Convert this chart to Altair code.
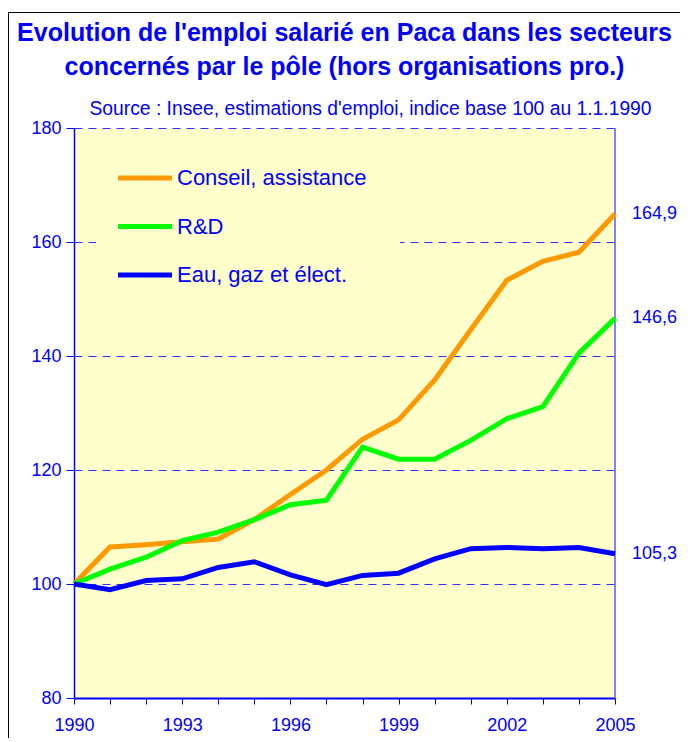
import altair as alt
import pandas as pd

years = list(range(1990, 2006))
series_names = ["Conseil, assistance", "R&D", "Eau, gaz et élect."]
conseil = [100, 106.5, 106.9, 107.4, 107.9, 111.3, 115.7, 120.0, 125.4, 128.8, 135.8, 144.6, 153.3, 156.6, 158.2, 164.9]
rd = [100, 102.6, 104.7, 107.6, 109.1, 111.3, 113.9, 114.7, 124.0, 121.9, 121.9, 125.2, 129.0, 131.1, 140.5, 146.6]
eau = [100, 99.0, 100.6, 100.9, 102.9, 103.9, 101.6, 99.9, 101.5, 101.9, 104.4, 106.2, 106.4, 106.2, 106.4, 105.3]
end_labels = ["164,9", "146,6", "105,3"]
colors = ["#FF9900", "#00FF00", "#0000FF"]
y_ticks = [80, 100, 120, 140, 160, 180]

title_lines = ["Evolution de l'emploi salarié en Paca dans les secteurs",
               "concernés par le pôle (hors organisations pro.)"]
subtitle = "Source : Insee, estimations d'emploi, indice base 100 au 1.1.1990"

BLUE = "#0000FF"
FONT = "Liberation Sans"
BG = "#FFFFCC"

rows = []
for name, vals in zip(series_names, [conseil, rd, eau]):
    for yr, v in zip(years, vals):
        rows.append({"series": name, "year": yr, "value": v})
df = pd.DataFrame(rows)

end_df = pd.DataFrame({
    "series": series_names,
    "year": [years[-1]] * 3,
    "value": [conseil[-1], rd[-1], eau[-1]],
    "label": end_labels,
})

x_scale = alt.Scale(domain=[1990, 2005], nice=False, zero=False)
y_scale = alt.Scale(domain=[80, 180], nice=False, zero=False)

x_axis = alt.Axis(values=years, format="d", grid=False, title=None,
                  labelExpr="(datum.value - 1990) % 3 == 0 ? datum.label : ''",
                  tickSize=6, labelPadding=12, labelFontSize=18,
                  domainWidth=2, labelFlush=False, labelOverlap=False)
y_axis = alt.Axis(values=y_ticks, grid=True, gridDash=[8, 6], gridColor="#2F2FFF",
                  tickSize=8, labelPadding=5, labelFontSize=18, domainWidth=1.5,
                  labelOverlap=False,
                  title=subtitle, titleAngle=0, titleX=296, titleY=-14,
                  titleAlign="center", titleBaseline="alphabetic",
                  titleFontSize=19.3, titleFontWeight="normal", titleColor=BLUE,
                  titleFont=FONT)

lines = alt.Chart(df).mark_line(strokeWidth=5).encode(
    x=alt.X("year:Q", scale=x_scale, axis=x_axis),
    y=alt.Y("value:Q", scale=y_scale, axis=y_axis),
    color=alt.Color("series:N", sort=series_names,
                    scale=alt.Scale(domain=series_names, range=colors),
                    legend=alt.Legend(title=None, orient="none", legendX=22, legendY=1,
                                      direction="vertical", symbolType="M-2,0L2,0",
                                      symbolSize=729, symbolStrokeWidth=5,
                                      labelFontSize=22, labelColor=BLUE, labelFont=FONT,
                                      labelOffset=16, rowPadding=21.5, padding=33,
                                      fillColor=BG, labelLimit=400)),
)

ends = alt.Chart(end_df).mark_text(align="left", baseline="middle", dx=17,
                                   fontSize=18, color=BLUE, font=FONT).encode(
    x=alt.X("year:Q", scale=x_scale, axis=x_axis),
    y=alt.Y("value:Q", scale=y_scale, axis=y_axis),
    text="label:N",
)

right_border = alt.Chart(end_df).mark_rule(color="#7070FF", strokeWidth=1).encode(
    x=alt.X("year:Q", scale=x_scale, axis=x_axis),
)

frame = alt.Chart(pd.DataFrame({"k": [0]})).mark_rect(
    filled=False, stroke="black", strokeWidth=1).encode(
    x=alt.value(-65.5), y=alt.value(-115.5), x2=alt.value(700), y2=alt.value(720),
)

chart = alt.layer(frame, right_border, lines, ends).properties(
    width=541, height=570,
    autosize=alt.AutoSizeParams(type="none"),
    padding={"left": 66, "top": 120, "right": 65, "bottom": 40},
    title=alt.TitleParams(text=title_lines, anchor="middle", frame="group",
                          fontSize=25, fontWeight="bold", font=FONT, color=BLUE,
                          lineHeight=34, offset=-68),
).configure(
    background="white",
).configure_view(
    fill=BG, stroke=None,
).configure_axis(
    domainColor=BLUE, tickColor=BLUE, labelColor=BLUE, labelFont=FONT,
    tickWidth=1, labelOverlap=False,
)

chart.save("out.html", embed_options={"renderer": "svg", "actions": False})
